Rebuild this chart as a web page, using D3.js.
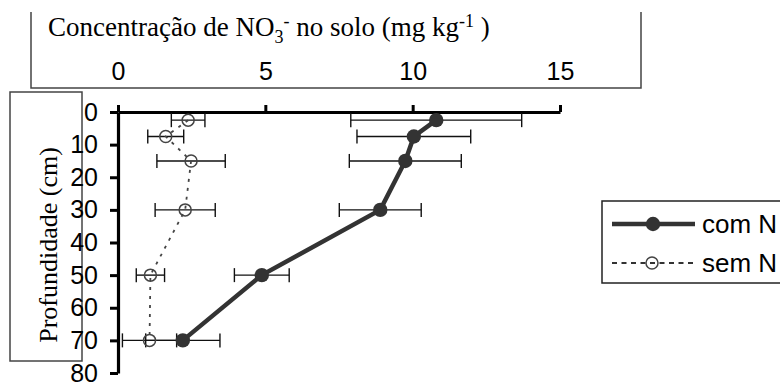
<!DOCTYPE html>
<html>
<head>
<meta charset="utf-8">
<script src="https://cdn.jsdelivr.net/npm/d3@7"></script>
<style>
  html, body { margin: 0; padding: 0; background: #fff; }
  svg { display: block; }
</style>
</head>
<body>
<svg id="chart" width="780" height="383"></svg>
<script>
// Soil depth (cm) of each sampling layer
const depths = [2.5, 7.5, 15, 30, 50, 70];
// NO3- concentration (mg kg-1) with nitrogen applied, and its error
const comN = [10.8, 10.04, 9.75, 8.9, 4.88, 2.2];
const comNErr = [2.9, 1.93, 1.9, 1.39, 0.93, 1.26];
// NO3- concentration (mg kg-1) without nitrogen, and its error
const semN = [2.38, 1.62, 2.48, 2.28, 1.1, 1.07];
const semNErr = [0.57, 0.61, 1.16, 1.02, 0.48, 0.92];
// Axis ticks
const xTicks = [0, 5, 10, 15];
const yTicks = [0, 10, 20, 30, 40, 50, 60, 70, 80];
const seriesNames = ["com N", "sem N"];

const svg = d3.select("#chart");
const sans = "Arial, 'Liberation Sans', sans-serif";
const serif = "'Times New Roman', 'Liberation Serif', serif";

const x = d3.scaleLinear().domain([0, 15]).range([118, 560]);
const y = d3.scaleLinear().domain([0, 80]).range([112, 373]);

// Frame around the top axis title
svg.append("path")
  .attr("d", "M31,12V88H641V12")
  .attr("fill", "none").attr("stroke", "#444").attr("stroke-width", 1.5);

// Frame around the vertical axis title
svg.append("rect")
  .attr("x", 10).attr("y", 92).attr("width", 72).attr("height", 269)
  .attr("fill", "none").attr("stroke", "#444").attr("stroke-width", 1.5);

// Top axis title with sub/superscripts
const title = svg.append("text")
  .attr("x", 48).attr("y", 36)
  .attr("font-family", serif).attr("font-size", 27).attr("fill", "#000");
title.append("tspan").text("Concentração de NO");
title.append("tspan").attr("font-size", 18).attr("dy", 7).text("3");
title.append("tspan").attr("font-size", 18).attr("dy", -16).text("-");
title.append("tspan").attr("dy", 9).text(" no solo (mg kg");
title.append("tspan").attr("font-size", 18).attr("dy", -9).text("-1");
title.append("tspan").attr("dy", 9).text(" )");

// Vertical axis title
svg.append("text")
  .attr("transform", "translate(57,245) rotate(-90)")
  .attr("text-anchor", "middle")
  .attr("font-family", serif).attr("font-size", 26).attr("fill", "#000")
  .text("Profundidade (cm)");

// Axes
const xAxis = svg.append("g")
  .attr("transform", `translate(0,${y(0)})`)
  .call(d3.axisTop(x).tickValues(xTicks).tickSize(7).tickSizeOuter(0).tickPadding(25));
const yAxis = svg.append("g")
  .attr("transform", `translate(${x(0)},0)`)
  .call(d3.axisLeft(y).tickValues(yTicks).tickSize(8).tickSizeOuter(0).tickPadding(12));

[xAxis, yAxis].forEach(g => {
  g.select(".domain").attr("stroke", "#000").attr("stroke-width", 3.2);
  g.selectAll(".tick line").attr("stroke", "#000").attr("stroke-width", 3);
  g.selectAll(".tick text")
    .attr("font-family", sans).attr("font-size", 25).attr("fill", "#000");
});

// Error bars
function errorBars(vals, errs, cls) {
  const cap = 7;
  const g = svg.append("g").attr("class", cls)
    .attr("stroke", "#111").attr("stroke-width", 1.4).attr("fill", "none");
  depths.forEach((d, i) => {
    const y0 = y(d), x1 = x(vals[i] - errs[i]), x2 = x(vals[i] + errs[i]);
    g.append("line").attr("x1", x1).attr("x2", x2).attr("y1", y0).attr("y2", y0);
    g.append("line").attr("x1", x1).attr("x2", x1).attr("y1", y0 - cap).attr("y2", y0 + cap);
    g.append("line").attr("x1", x2).attr("x2", x2).attr("y1", y0 - cap).attr("y2", y0 + cap);
  });
}
errorBars(semN, semNErr, "err-sem");
errorBars(comN, comNErr, "err-com");

const line = d3.line().x(d => x(d[0])).y(d => y(d[1]));

// Series without nitrogen: dotted line, open circles
svg.append("path")
  .datum(depths.map((d, i) => [semN[i], d]))
  .attr("d", line)
  .attr("fill", "none").attr("stroke", "#444").attr("stroke-width", 1.8)
  .attr("stroke-dasharray", "3,6");
svg.append("g").selectAll("circle")
  .data(depths.map((d, i) => [semN[i], d]))
  .join("circle")
  .attr("cx", d => x(d[0])).attr("cy", d => y(d[1])).attr("r", 6)
  .attr("fill", "none").attr("stroke", "#444").attr("stroke-width", 1.5);

// Series with nitrogen: solid line, filled circles
svg.append("path")
  .datum(depths.map((d, i) => [comN[i], d]))
  .attr("d", line)
  .attr("fill", "none").attr("stroke", "#333").attr("stroke-width", 4.5);
svg.append("g").selectAll("circle")
  .data(depths.map((d, i) => [comN[i], d]))
  .join("circle")
  .attr("cx", d => x(d[0])).attr("cy", d => y(d[1])).attr("r", 7.2)
  .attr("fill", "#333");

// Legend
const lg = svg.append("g");
lg.append("rect")
  .attr("x", 602).attr("y", 201).attr("width", 200).attr("height", 82)
  .attr("fill", "none").attr("stroke", "#222").attr("stroke-width", 1.5);
const rows = [224, 263];
// com N entry
lg.append("line").attr("x1", 612).attr("x2", 695).attr("y1", rows[0]).attr("y2", rows[0])
  .attr("stroke", "#333").attr("stroke-width", 4.5);
lg.append("circle").attr("cx", 653).attr("cy", rows[0]).attr("r", 7.2).attr("fill", "#333");
// sem N entry
lg.append("line").attr("x1", 612).attr("x2", 695).attr("y1", rows[1]).attr("y2", rows[1])
  .attr("stroke", "#333").attr("stroke-width", 2).attr("stroke-dasharray", "5,4.5");
lg.append("circle").attr("cx", 652).attr("cy", rows[1]).attr("r", 6)
  .attr("fill", "none").attr("stroke", "#444").attr("stroke-width", 1.5);
lg.selectAll("text.lbl")
  .data(seriesNames)
  .join("text")
  .attr("class", "lbl")
  .attr("x", 702).attr("y", (d, i) => rows[i]).attr("dy", "0.35em")
  .attr("font-family", sans).attr("font-size", 26).attr("fill", "#000")
  .text(d => d);
</script>
</body>
</html>
